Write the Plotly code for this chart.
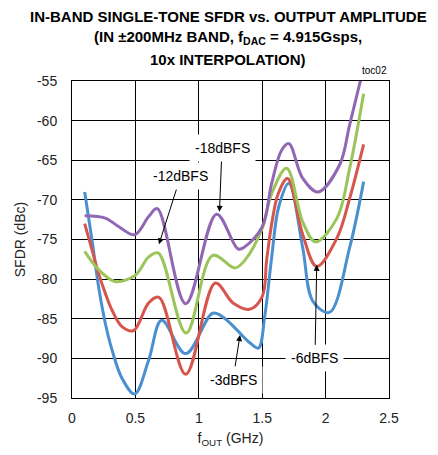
import plotly.graph_objects as go

# -3dBFS
x_3 = [0.1, 0.158, 0.21, 0.263, 0.315, 0.394, 0.494, 0.605, 0.707, 0.897, 1.11, 1.2, 1.3, 1.4, 1.47, 1.52, 1.575, 1.63, 1.71, 1.82, 1.9, 2.03, 2.19, 2.3]
y_3 = [-69.0, -75.1, -81.0, -85.6, -88.9, -92.5, -94.5, -90.2, -85.2, -89.4, -84.3, -84.9, -86.4, -88.0, -88.7, -84.7, -77.2, -70.9, -67.9, -76.1, -82.8, -84.2, -76.0, -67.7]
# -6dBFS
x_6 = [0.1, 0.158, 0.21, 0.263, 0.315, 0.394, 0.485, 0.605, 0.686, 0.897, 1.13, 1.27, 1.4, 1.5, 1.535, 1.575, 1.627, 1.70, 1.82, 1.93, 2.09, 2.19, 2.3]
y_6 = [-73.0, -76.3, -79.3, -81.8, -83.9, -86.0, -86.5, -83.0, -82.3, -92.0, -80.5, -83.0, -83.8, -82.2, -77.6, -73.0, -69.2, -67.3, -74.4, -78.4, -74.8, -69.8, -63.0]
# -12dBFS
x_12 = [0.1, 0.21, 0.34, 0.5, 0.605, 0.68, 0.9, 1.11, 1.285, 1.364, 1.5, 1.575, 1.693, 1.82, 1.92, 2.09, 2.19, 2.3]
y_12 = [-76.5, -78.8, -80.3, -79.5, -77.2, -76.7, -86.8, -77.0, -78.6, -77.6, -73.6, -69.2, -66.0, -72.8, -75.3, -72.3, -66.0, -56.6]
# -18dBFS
x_18 = [0.1, 0.263, 0.37, 0.494, 0.605, 0.673, 0.897, 1.14, 1.31, 1.364, 1.5, 1.575, 1.654, 1.71, 1.82, 1.94, 2.11, 2.19, 2.3]
y_18 = [-72.0, -72.3, -73.4, -74.4, -72.1, -71.1, -83.1, -71.8, -76.2, -75.9, -73.4, -67.9, -63.7, -62.9, -67.3, -69.0, -65.6, -60.5, -53.3]

x_ticks = [0, 0.5, 1, 1.5, 2, 2.5]
x_labels = ["0", "0.5", "1", "1.5", "2", "2.5"]
y_ticks = [-55, -60, -65, -70, -75, -80, -85, -90, -95]
y_labels = ["-55", "-60", "-65", "-70", "-75", "-80", "-85", "-90", "-95"]

title_lines = [
    "IN-BAND SINGLE-TONE SFDR vs. OUTPUT AMPLITUDE",
    "(IN ±200MHz BAND, f<sub>DAC</sub> = 4.915Gsps,",
    "10x INTERPOLATION)",
]

FONT = "Liberation Sans, Arial, sans-serif"
PLOT_TOP = 81.0
PLOT_H = 317.0

fig = go.Figure()
series = [
    (x_3, y_3, "#4A90D0", "-3dBFS"),
    (x_6, y_6, "#D6554C", "-6dBFS"),
    (x_12, y_12, "#9BC45A", "-12dBFS"),
    (x_18, y_18, "#9167B4", "-18dBFS"),
]
for xs, ys, c, name in series:
    fig.add_trace(go.Scatter(x=xs, y=ys, mode="lines", name=name,
                             line=dict(color=c, width=3, shape="spline", smoothing=1.0)))

ann_common = dict(xref="x", yref="y", axref="x", ayref="y", showarrow=True,
                  arrowhead=2, arrowsize=1.2, arrowwidth=1, arrowcolor="black",
                  bgcolor="white", borderpad=5,
                  font=dict(family=FONT, size=14, color="black"))
fig.add_annotation(text="-18dBFS", x=1.163, y=-71.5, ax=1.183, ay=-63.45, **ann_common)
fig.add_annotation(text="-12dBFS", x=0.686, y=-75.6, ax=0.857, ay=-67.0, **ann_common)
fig.add_annotation(text="-3dBFS", x=1.325, y=-87.05, ax=1.27, ay=-92.7, **ann_common)
fig.add_annotation(text="-6dBFS", x=1.93, y=-78.2, ax=1.916, ay=-90.0, **ann_common)
fig.add_annotation(text="toc02", xref="paper", yref="paper", x=1.0, y=1 + (PLOT_TOP - 71) / PLOT_H,
                   xanchor="right", yanchor="middle", showarrow=False,
                   font=dict(family=FONT, size=10, color="black"))

for line, yc in zip(title_lines, [16.5, 38.0, 59.0]):
    fig.add_annotation(text="<b>" + line + "</b>", xref="paper", yref="paper",
                       x=(228 - 72) / 317.0, y=1 + (PLOT_TOP - yc) / PLOT_H,
                       xanchor="center", yanchor="middle", showarrow=False,
                       font=dict(family=FONT, size=15, color="black"))

fig.update_layout(
    width=438, height=455,
    margin=dict(l=64, r=57, t=73, b=65, autoexpand=False),
    paper_bgcolor="white", plot_bgcolor="white",
    showlegend=False,
    xaxis=dict(range=[0, 2.5], tickvals=x_ticks, ticktext=x_labels,
               showgrid=True, gridcolor="black", gridwidth=1,
               showline=True, linecolor="black", linewidth=1, mirror=True,
               zeroline=False, ticks="", ticklen=0, ticklabelstandoff=7,
               automargin=False,
               tickfont=dict(family=FONT, size=14, color="#222"),
               title=dict(text="f<sub>OUT</sub> (GHz)", font=dict(family=FONT, size=14, color="#222"), standoff=8)),
    yaxis=dict(range=[-95, -55], tickvals=y_ticks, ticktext=y_labels,
               showgrid=True, gridcolor="black", gridwidth=1,
               showline=True, linecolor="black", linewidth=1, mirror=True,
               zeroline=False, ticks="", ticklen=0, ticklabelstandoff=11,
               automargin=False,
               tickfont=dict(family=FONT, size=14, color="#222"),
               title=dict(text="SFDR (dBc)", font=dict(family=FONT, size=14, color="#222"), standoff=8)),
)

fig.write_html("out.html")
